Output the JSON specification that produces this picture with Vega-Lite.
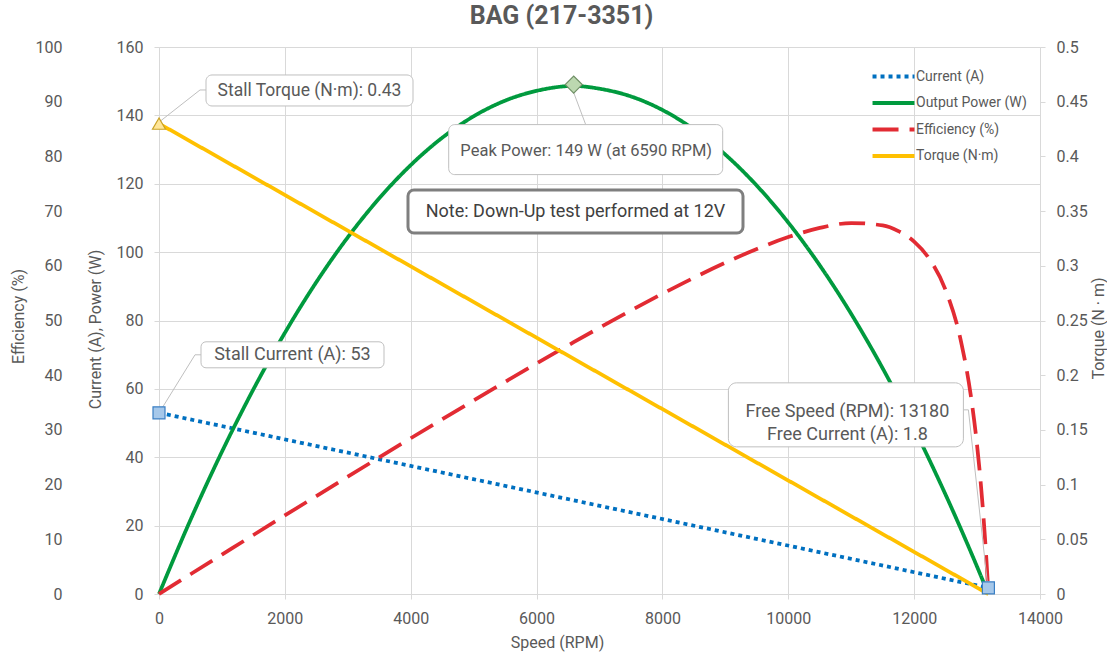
{
"$schema":"https://vega.github.io/schema/vega-lite/v6.json",
"width":881,"height":547,
"autosize":{"type":"none"},
"padding":{"left":159,"top":47,"right":67,"bottom":64},
"background":"#ffffff",
"title":{"text":"BAG (217-3351)","fontSize":25,"fontWeight":"bold","color":"#595959","font":"Roboto","anchor":"middle","dx":-38,"offset":-15,"baseline":"bottom"},
"config":{
 "view":{"stroke":null},
 "font":"Roboto",
 "axis":{"labelFont":"Roboto","titleFont":"Roboto","labelColor":"#595959","titleColor":"#595959","labelFontSize":16,"titleFontSize":16,"titleFontWeight":"normal","gridColor":"#D9D9D9","gridWidth":1,"domainColor":"#D9D9D9","tickColor":"#D9D9D9","tickSize":5,"labelOverlap":false,"labelFlush":false},
 "text":{"font":"Roboto"}
},
"datasets":{
 "curves":[
  {"series":"Current (A)","speed":0,"value":53},
  {"series":"Current (A)","speed":13180,"value":1.8},
  {"series":"Torque (N·m)","speed":0,"value":0.43},
  {"series":"Torque (N·m)","speed":13180,"value":0},
  {"series":"Output Power (W)","speed":0,"value":0},
  {"series":"Output Power (W)","speed":500,"value":21.66},
  {"series":"Output Power (W)","speed":1000,"value":41.61},
  {"series":"Output Power (W)","speed":1500,"value":59.86},
  {"series":"Output Power (W)","speed":2000,"value":76.39},
  {"series":"Output Power (W)","speed":2500,"value":91.22},
  {"series":"Output Power (W)","speed":3000,"value":104.34},
  {"series":"Output Power (W)","speed":3500,"value":115.75},
  {"series":"Output Power (W)","speed":4000,"value":125.45},
  {"series":"Output Power (W)","speed":4500,"value":133.45},
  {"series":"Output Power (W)","speed":5000,"value":139.73},
  {"series":"Output Power (W)","speed":5500,"value":144.31},
  {"series":"Output Power (W)","speed":6000,"value":147.18},
  {"series":"Output Power (W)","speed":6590,"value":148.6},
  {"series":"Output Power (W)","speed":7000,"value":147.8},
  {"series":"Output Power (W)","speed":7500,"value":145.54},
  {"series":"Output Power (W)","speed":8000,"value":141.58},
  {"series":"Output Power (W)","speed":8500,"value":135.91},
  {"series":"Output Power (W)","speed":9000,"value":128.53},
  {"series":"Output Power (W)","speed":9500,"value":119.44},
  {"series":"Output Power (W)","speed":10000,"value":108.65},
  {"series":"Output Power (W)","speed":10500,"value":96.14},
  {"series":"Output Power (W)","speed":11000,"value":81.93},
  {"series":"Output Power (W)","speed":11500,"value":66.01},
  {"series":"Output Power (W)","speed":12000,"value":48.38},
  {"series":"Output Power (W)","speed":12500,"value":29.04},
  {"series":"Output Power (W)","speed":13000,"value":7.99},
  {"series":"Output Power (W)","speed":13180,"value":0},
  {"series":"Efficiency (%)","speed":0,"value":0},
  {"series":"Efficiency (%)","speed":500,"value":3.61},
  {"series":"Efficiency (%)","speed":1000,"value":7.2},
  {"series":"Efficiency (%)","speed":1500,"value":10.79},
  {"series":"Efficiency (%)","speed":2000,"value":14.36},
  {"series":"Efficiency (%)","speed":2500,"value":17.91},
  {"series":"Efficiency (%)","speed":3000,"value":21.45},
  {"series":"Efficiency (%)","speed":3500,"value":24.97},
  {"series":"Efficiency (%)","speed":4000,"value":28.47},
  {"series":"Efficiency (%)","speed":4500,"value":31.94},
  {"series":"Efficiency (%)","speed":5000,"value":35.37},
  {"series":"Efficiency (%)","speed":5500,"value":38.78},
  {"series":"Efficiency (%)","speed":6000,"value":42.13},
  {"series":"Efficiency (%)","speed":6590,"value":46.03},
  {"series":"Efficiency (%)","speed":7000,"value":48.68},
  {"series":"Efficiency (%)","speed":7500,"value":51.84},
  {"series":"Efficiency (%)","speed":8000,"value":54.89},
  {"series":"Efficiency (%)","speed":8500,"value":57.82},
  {"series":"Efficiency (%)","speed":9000,"value":60.57},
  {"series":"Efficiency (%)","speed":9500,"value":63.07},
  {"series":"Efficiency (%)","speed":10000,"value":65.25},
  {"series":"Efficiency (%)","speed":10500,"value":66.92},
  {"series":"Efficiency (%)","speed":11000,"value":67.82},
  {"series":"Efficiency (%)","speed":11500,"value":67.39},
  {"series":"Efficiency (%)","speed":11750,"value":66.34},
  {"series":"Efficiency (%)","speed":12000,"value":64.41},
  {"series":"Efficiency (%)","speed":12250,"value":61.12},
  {"series":"Efficiency (%)","speed":12500,"value":55.57},
  {"series":"Efficiency (%)","speed":12750,"value":45.88},
  {"series":"Efficiency (%)","speed":12900,"value":36.32},
  {"series":"Efficiency (%)","speed":13000,"value":27.19},
  {"series":"Efficiency (%)","speed":13050,"value":21.37},
  {"series":"Efficiency (%)","speed":13100,"value":14.41},
  {"series":"Efficiency (%)","speed":13150,"value":5.98},
  {"series":"Efficiency (%)","speed":13180,"value":0}
 ],
 "points":[
  {"name":"Stall Current","speed":0,"value":53,"label":"Stall Current (A): 53"},
  {"name":"Free Speed","speed":13180,"value":1.8,"label":"Free Speed (RPM): 13180\nFree Current (A): 1.8"},
  {"name":"Peak Power","speed":6590,"value":149,"label":"Peak Power: 149 W (at 6590 RPM)","note":"Note: Down-Up test performed at 12V"},
  {"name":"Stall Torque","speed":0,"value":0.43,"label":"Stall Torque (N·m): 0.43"}
 ]
},
"encoding":{
 "x":{"field":"speed","type":"quantitative","scale":{"domain":[0,14000],"nice":false},"axis":{"orient":"bottom","values":[0,2000,4000,6000,8000,10000,12000,14000],"grid":true,"tickSize":5,"labelPadding":11,"title":"Speed (RPM)","titleX":398,"titleY":48,"titleAlign":"center","titleBaseline":"middle","format":"d"}}
},
"resolve":{"scale":{"y":"independent"}},
"layer":[
 {
  "data":{"name":"curves"},
  "transform":[{"filter":{"field":"series","oneOf":["Current (A)","Output Power (W)"]}}],
  "mark":{"type":"line","strokeWidth":3.75,"strokeCap":"butt","strokeJoin":"round","interpolate":"monotone"},
  "encoding":{
   "y":{"field":"value","type":"quantitative","scale":{"domain":[0,160],"nice":false},"axis":{"orient":"left","values":[0,20,40,60,80,100,120,140,160],"grid":true,"tickSize":5,"labelPadding":11,"title":"Current (A), Power (W)","titleAngle":270,"titleX":-64,"titleY":282,"titleAlign":"center","titleBaseline":"middle"}},
   "color":{"field":"series","type":"nominal","scale":{"domain":["Current (A)","Output Power (W)","Efficiency (%)","Torque (N·m)"],"range":["#0070C0","#009A3E","#E22B33","#FFC000"]},"legend":{"title":null,"orient":"none","legendX":727,"legendY":22,"symbolType":"M-4,0H4","symbolSize":110,"symbolStrokeWidth":4,"labelFontSize":14,"labelFont":"Roboto","labelColor":"#595959","labelOffset":15,"rowPadding":9.5,"padding":0}},
   "strokeDash":{"field":"series","type":"nominal","scale":{"domain":["Current (A)","Output Power (W)","Efficiency (%)","Torque (N·m)"],"range":[[4,4],[1,0],[26,11],[1,0]]},"legend":{"title":null,"orient":"none","legendX":727,"legendY":22,"symbolType":"M-4,0H4","symbolSize":110,"symbolStrokeWidth":4,"labelFontSize":14,"labelFont":"Roboto","labelColor":"#595959","labelOffset":15,"rowPadding":9.5,"padding":0}}
  }
 },
 {
  "data":{"name":"curves"},
  "transform":[{"filter":{"field":"series","equal":"Efficiency (%)"}}],
  "mark":{"type":"line","strokeWidth":3.75,"strokeCap":"butt","strokeJoin":"round","interpolate":"monotone"},
  "encoding":{
   "y":{"field":"value","type":"quantitative","scale":{"domain":[0,100],"nice":false},"axis":{"orient":"left","offset":92,"values":[0,10,20,30,40,50,60,70,80,90,100],"ticks":false,"tickSize":0,"domain":false,"grid":false,"labelPadding":5,"title":"Efficiency (%)","titleAngle":270,"titleX":-49,"titleY":269,"titleAlign":"center","titleBaseline":"middle"}},
   "color":{"field":"series","type":"nominal"},
   "strokeDash":{"field":"series","type":"nominal"}
  }
 },
 {
  "data":{"name":"curves"},
  "transform":[{"filter":{"field":"series","equal":"Torque (N·m)"}}],
  "mark":{"type":"line","strokeWidth":3.75,"strokeCap":"butt","strokeJoin":"round"},
  "encoding":{
   "y":{"field":"value","type":"quantitative","scale":{"domain":[0,0.5],"nice":false},"axis":{"orient":"right","values":[0,0.05,0.1,0.15,0.2,0.25,0.3,0.35,0.4,0.45,0.5],"format":"~g","grid":false,"tickSize":5,"labelPadding":11,"domain":true,"title":"Torque (N · m)","titleAngle":270,"titleX":58,"titleY":281,"titleAlign":"center","titleBaseline":"middle"}},
   "color":{"field":"series","type":"nominal"},
   "strokeDash":{"field":"series","type":"nominal"}
  }
 },
 {
  "data":{"name":"points"},
  "encoding":{
   "y":{"field":"value","type":"quantitative","scale":{"domain":[0,160],"nice":false},"axis":null}
  },
  "layer":[
   {"transform":[{"filter":"datum.name === 'Stall Current'"}],"mark":{"type":"rule","color":"#BFBFBF","strokeWidth":1,"xOffset":2,"yOffset":-3,"x2Offset":36,"y2Offset":-58},"encoding":{"x2":{"field":"speed"},"y2":{"field":"value"}}},
   {"transform":[{"filter":"datum.name === 'Stall Current'"}],"mark":{"type":"rule","color":"#BFBFBF","strokeWidth":1,"xOffset":36,"yOffset":-58,"x2Offset":42,"y2Offset":-58},"encoding":{"x2":{"field":"speed"},"y2":{"field":"value"}}},
   {"transform":[{"filter":"datum.name === 'Stall Current'"}],"mark":{"type":"rect","fill":"#ffffff","stroke":"#BFBFBF","strokeWidth":1,"cornerRadius":5,"xOffset":42,"x2Offset":225,"yOffset":-71,"y2Offset":-45},"encoding":{"x2":{"field":"speed"},"y2":{"field":"value"}}},
   {"transform":[{"filter":"datum.name === 'Stall Current'"}],"mark":{"type":"text","dx":133.5,"dy":-58,"align":"center","baseline":"middle","fontSize":18,"color":"#595959"},"encoding":{"text":{"field":"label"}}},

   {"transform":[{"filter":"datum.name === 'Free Speed'"}],"mark":{"type":"rule","color":"#BFBFBF","strokeWidth":1,"xOffset":-1,"yOffset":-5,"x2Offset":-20,"y2Offset":-178},"encoding":{"x2":{"field":"speed"},"y2":{"field":"value"}}},
   {"transform":[{"filter":"datum.name === 'Free Speed'"}],"mark":{"type":"rule","color":"#BFBFBF","strokeWidth":1,"xOffset":-20,"yOffset":-178,"x2Offset":-25,"y2Offset":-178},"encoding":{"x2":{"field":"speed"},"y2":{"field":"value"}}},
   {"transform":[{"filter":"datum.name === 'Free Speed'"}],"mark":{"type":"rect","fill":"#ffffff","stroke":"#BFBFBF","strokeWidth":1,"cornerRadius":8,"xOffset":-260,"x2Offset":-25,"yOffset":-205,"y2Offset":-141},"encoding":{"x2":{"field":"speed"},"y2":{"field":"value"}}},
   {"transform":[{"filter":"datum.name === 'Free Speed'"}],"mark":{"type":"text","dx":-141,"dy":-176,"align":"center","baseline":"middle","fontSize":18,"color":"#595959","lineBreak":"\n","lineHeight":23},"encoding":{"text":{"field":"label"}}},

   {"transform":[{"filter":"datum.name === 'Peak Power'"}],"mark":{"type":"rule","color":"#BFBFBF","strokeWidth":1,"xOffset":0,"yOffset":8,"x2Offset":12,"y2Offset":40},"encoding":{"x2":{"field":"speed"},"y2":{"field":"value"}}},
   {"transform":[{"filter":"datum.name === 'Peak Power'"}],"mark":{"type":"rect","fill":"#ffffff","stroke":"#BFBFBF","strokeWidth":1,"cornerRadius":6,"xOffset":-125,"x2Offset":149,"yOffset":40,"y2Offset":90},"encoding":{"x2":{"field":"speed"},"y2":{"field":"value"}}},
   {"transform":[{"filter":"datum.name === 'Peak Power'"}],"mark":{"type":"text","dx":12.5,"dy":66,"align":"center","baseline":"middle","fontSize":16.5,"color":"#595959"},"encoding":{"text":{"field":"label"}}},

   {"transform":[{"filter":"datum.name === 'Peak Power'"}],"mark":{"type":"rect","fill":"#ffffff","stroke":"#7F7F7F","strokeWidth":3,"cornerRadius":6,"xOffset":-165.7,"x2Offset":169.3,"yOffset":105.4,"y2Offset":148.4},"encoding":{"x2":{"field":"speed"},"y2":{"field":"value"}}},
   {"transform":[{"filter":"datum.name === 'Peak Power'"}],"mark":{"type":"text","dx":1.8,"dy":127,"align":"center","baseline":"middle","fontSize":18,"color":"#404040"},"encoding":{"text":{"field":"note"}}},

   {"transform":[{"filter":{"field":"name","oneOf":["Stall Current","Free Speed"]}}],"mark":{"type":"point","shape":"square","size":144,"filled":true,"fill":"#A6C8EA","stroke":"#3A7FC4","strokeWidth":1.2,"opacity":1}},
   {"transform":[{"filter":"datum.name === 'Peak Power'"}],"mark":{"type":"point","shape":"diamond","size":290,"filled":true,"fill":"#BCD8B0","stroke":"#6F8F65","strokeWidth":1.2,"opacity":1}}
  ]
 },
 {
  "data":{"name":"points"},
  "transform":[{"filter":"datum.name === 'Stall Torque'"}],
  "encoding":{
   "y":{"field":"value","type":"quantitative","scale":{"domain":[0,0.5],"nice":false},"axis":null}
  },
  "layer":[
   {"mark":{"type":"rule","color":"#BFBFBF","strokeWidth":1,"xOffset":2,"yOffset":-3,"x2Offset":41,"y2Offset":-33.6},"encoding":{"x2":{"field":"speed"},"y2":{"field":"value"}}},
   {"mark":{"type":"rule","color":"#BFBFBF","strokeWidth":1,"xOffset":41,"yOffset":-33.6,"x2Offset":47,"y2Offset":-33.6},"encoding":{"x2":{"field":"speed"},"y2":{"field":"value"}}},
   {"mark":{"type":"rect","fill":"#ffffff","stroke":"#BFBFBF","strokeWidth":1,"cornerRadius":6,"xOffset":47,"x2Offset":254,"yOffset":-48.6,"y2Offset":-17.6},"encoding":{"x2":{"field":"speed"},"y2":{"field":"value"}}},
   {"mark":{"type":"text","dx":150.5,"dy":-33,"align":"center","baseline":"middle","fontSize":17.5,"color":"#595959"},"encoding":{"text":{"field":"label"}}},
   {"mark":{"type":"point","shape":"triangle-up","size":170,"filled":true,"fill":"#FFE699","stroke":"#C9A227","strokeWidth":1.2,"opacity":1}}
  ]
 }
]
}
